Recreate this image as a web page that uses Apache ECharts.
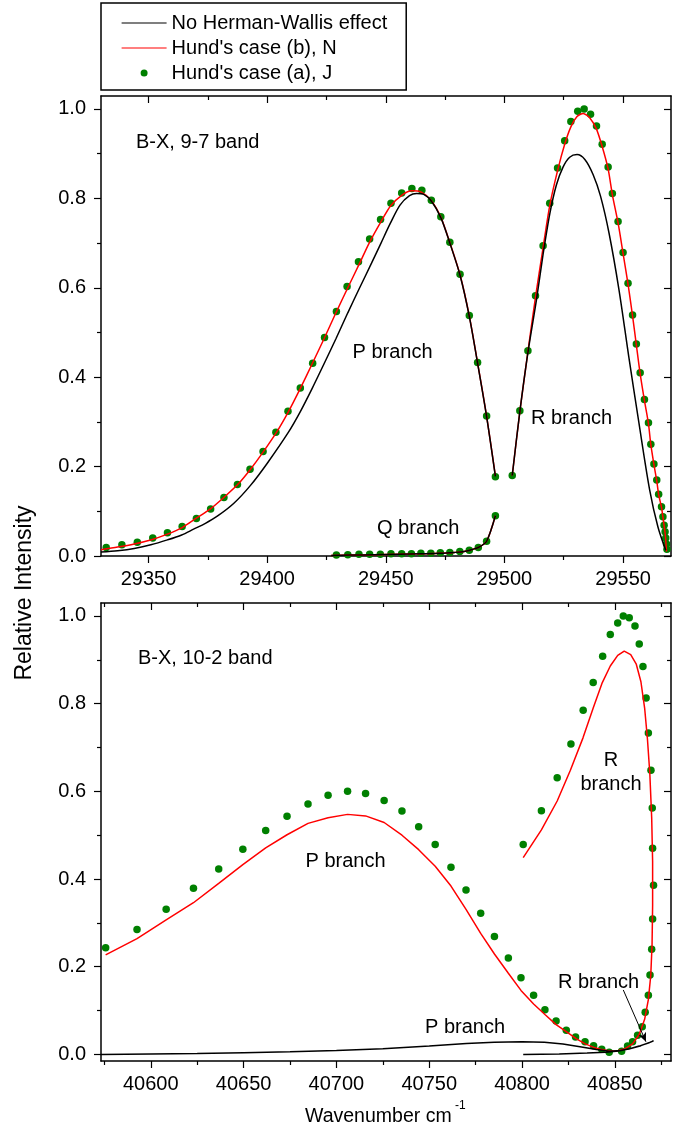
<!DOCTYPE html>
<html><head><meta charset="utf-8">
<script src="https://cdn.jsdelivr.net/npm/echarts@6/dist/echarts.min.js"></script>
<style>html,body{margin:0;padding:0;background:#fff}#c{width:690px;height:1127px}</style>
</head><body><div id="c"></div>
<script>
// ---------- DATA (top panel: B-X 9-7 band) ----------
const topXMajor = [29350, 29400, 29450, 29500, 29550];
const topXMinor = [29375, 29425, 29475, 29525];
const yMajor = [0, 0.2, 0.4, 0.6, 0.8, 1.0];
const yMinor = [0.1, 0.3, 0.5, 0.7, 0.9];

const topDotsP = [[29332.2,0.019],[29338.8,0.025],[29345.3,0.031],[29351.8,0.040],[29358.0,0.052],[29364.2,0.066],[29370.2,0.084],[29376.2,0.105],[29381.8,0.131],[29387.5,0.160],[29392.8,0.194],[29398.3,0.234],[29403.7,0.277],[29408.8,0.324],[29414.0,0.376],[29419.2,0.431],[29424.2,0.489],[29429.2,0.547],[29433.7,0.603],[29438.5,0.658],[29443.2,0.709],[29447.8,0.753],[29452.2,0.789],[29456.7,0.812],[29461.0,0.822],[29465.2,0.818],[29469.2,0.796],[29473.2,0.759],[29477.0,0.702],[29481.3,0.630],[29485.2,0.538],[29488.7,0.433],[29492.5,0.313],[29496.2,0.177]];
const topDotsQ = [[29429.2,0.002],[29434.0,0.003],[29438.7,0.004],[29443.2,0.004],[29447.7,0.004],[29452.2,0.005],[29456.7,0.005],[29460.8,0.005],[29464.8,0.006],[29469.0,0.006],[29473.0,0.007],[29477.0,0.008],[29481.2,0.010],[29485.2,0.013],[29489.0,0.019],[29492.5,0.033],[29496.2,0.090]];
const topDotsR = [[29503.3,0.180],[29506.5,0.325],[29509.9,0.459],[29513.1,0.582],[29516.3,0.694],[29519.1,0.789],[29522.4,0.868],[29525.4,0.929],[29528.0,0.972],[29530.9,0.995],[29533.6,1.000],[29536.3,0.988],[29538.8,0.962],[29541.2,0.921],[29543.7,0.870],[29545.5,0.811],[29547.9,0.748],[29550.0,0.679],[29552.1,0.610],[29554.0,0.539],[29555.6,0.474],[29557.2,0.410],[29559.0,0.350],[29560.7,0.298],[29561.7,0.250],[29563.0,0.206],[29564.2,0.170],[29565.0,0.138],[29566.2,0.110],[29566.8,0.088],[29567.3,0.069],[29567.7,0.054],[29568.0,0.040],[29568.3,0.027],[29568.5,0.015]];

const topRedP = [[29330,0.014],[29337,0.020],[29344,0.027],[29351,0.036],[29358,0.049],[29364,0.063],[29370,0.084],[29376,0.105],[29382,0.132],[29388,0.162],[29393,0.194],[29398,0.230],[29404,0.277],[29409,0.323],[29414,0.375],[29419,0.430],[29424,0.486],[29429,0.544],[29434,0.600],[29439,0.655],[29443,0.700],[29448,0.748],[29452,0.783],[29457,0.808],[29461,0.817],[29465,0.814],[29469.2,0.795],[29473.2,0.758],[29477,0.701],[29481.3,0.629],[29485.2,0.537],[29488.7,0.432],[29492.5,0.313],[29496.2,0.179]];
const topBlackP = [[29330,0.009],[29337,0.012],[29344,0.017],[29351,0.025],[29358,0.036],[29364,0.047],[29369,0.060],[29374,0.073],[29379,0.089],[29386,0.118],[29393,0.158],[29400,0.207],[29409,0.277],[29414,0.323],[29419,0.375],[29424,0.430],[29429,0.486],[29434,0.544],[29439,0.600],[29444,0.655],[29448,0.700],[29452,0.745],[29456,0.785],[29460,0.806],[29463,0.811],[29466,0.809],[29469.2,0.794],[29473.2,0.757],[29477,0.700],[29481.3,0.628],[29485.2,0.536],[29488.7,0.431],[29492.5,0.312],[29496.2,0.178]];
const topQLine = [[29427,0.001],[29435,0.002],[29445,0.003],[29455,0.004],[29465,0.005],[29473,0.006],[29479,0.008],[29483,0.010],[29486,0.014],[29489,0.019],[29492.5,0.033],[29496.2,0.090]];
const topRedR = [[29503.3,0.180],[29506.5,0.323],[29509.9,0.457],[29513.1,0.579],[29516.3,0.690],[29519.1,0.784],[29522.4,0.862],[29525.4,0.921],[29528,0.960],[29530.6,0.983],[29533.2,0.990],[29536,0.980],[29538.8,0.955],[29541.2,0.916],[29543.7,0.866],[29545.5,0.808],[29547.9,0.745],[29550,0.677],[29552.1,0.608],[29554,0.537],[29555.6,0.472],[29557.2,0.408],[29559,0.348],[29560.7,0.296],[29561.7,0.249],[29563,0.205],[29564.2,0.168],[29565,0.137],[29566.2,0.109],[29566.8,0.087],[29567.3,0.068],[29567.7,0.052],[29568.0,0.035],[29568.3,0.010]];
const topBlackR = [[29503.3,0.180],[29506.5,0.323],[29509.9,0.455],[29513.5,0.573],[29516.3,0.675],[29519.1,0.765],[29521.9,0.830],[29524.7,0.870],[29527.5,0.892],[29530.6,0.898],[29533.9,0.887],[29537.4,0.853],[29540.5,0.805],[29544.1,0.722],[29548.3,0.595],[29552.4,0.446],[29556.7,0.297],[29561.2,0.148],[29564.7,0.065],[29568.0,0.013]];

// ---------- DATA (bottom panel: B-X 10-2 band) ----------
const botXMajor = [40600, 40650, 40700, 40750, 40800, 40850];
const botXMinor = [40575, 40625, 40675, 40725, 40775, 40825, 40875];

const botDotsP = [[40575.7,0.2435],[40592.6,0.285],[40608.3,0.331],[40623,0.379],[40636.6,0.423],[40649.6,0.468],[40661.9,0.511],[40673.4,0.543],[40684.7,0.571],[40695.5,0.591],[40706,0.600],[40715.7,0.595],[40725.7,0.579],[40735.3,0.555],[40744.3,0.519],[40753.2,0.479],[40761.7,0.427],[40769.8,0.375],[40777.7,0.322],[40785.1,0.269],[40792.6,0.220],[40799.4,0.175],[40806.2,0.135],[40812.3,0.102],[40818.3,0.076],[40823.8,0.055],[40828.8,0.040],[40833.9,0.029],[40838.5,0.020],[40842.9,0.012],[40846.9,0.005]];
const botDotsR = [[40853.6,0.007],[40856.8,0.019],[40859.5,0.029],[40862.2,0.044],[40864.7,0.063],[40866.3,0.096],[40868,0.135],[40868.9,0.181],[40869.8,0.240],[40870.3,0.309],[40870.8,0.386],[40870.3,0.470],[40870.1,0.562],[40869.4,0.648],[40868,0.733],[40866.8,0.813],[40865.1,0.885],[40863.1,0.936],[40860.8,0.977],[40857.7,0.996],[40854.5,1.000],[40851.5,0.984],[40847.5,0.958],[40843.4,0.908],[40838.3,0.848],[40832.9,0.785],[40826.3,0.708],[40818.9,0.631],[40810.4,0.556],[40800.6,0.479]];
const botRedP = [[40575.7,0.227],[40592.6,0.264],[40608.3,0.307],[40623,0.346],[40636.6,0.390],[40649.6,0.433],[40661.9,0.471],[40673.4,0.501],[40684.7,0.527],[40695.5,0.540],[40706,0.5475],[40715.7,0.544],[40725.7,0.529],[40735.3,0.500],[40744.3,0.467],[40753.2,0.429],[40761.7,0.384],[40769.8,0.331],[40777.7,0.276],[40785.1,0.229],[40792.6,0.185],[40799.4,0.146],[40806.2,0.115],[40812.3,0.091],[40818.3,0.068],[40823.8,0.052],[40829.1,0.036],[40834,0.024],[40838.7,0.016],[40843,0.011],[40847,0.008]];
const botRedR = [[40851,0.008],[40855.5,0.013],[40859.5,0.024],[40863,0.045],[40866,0.080],[40868,0.125],[40869.3,0.180],[40870,0.250],[40870.3,0.340],[40870.3,0.440],[40869.8,0.540],[40868.8,0.640],[40867.5,0.720],[40866,0.790],[40864,0.850],[40861.5,0.890],[40858.5,0.912],[40855,0.920],[40851.5,0.910],[40847.5,0.886],[40843.2,0.848],[40838.3,0.790],[40832.8,0.722],[40826,0.648],[40818.9,0.578],[40810.4,0.512],[40800.6,0.449]];
const botBlackP = [[40573,0.000],[40600,0.001],[40625,0.002],[40650,0.004],[40675,0.006],[40700,0.009],[40725,0.013],[40750,0.019],[40770,0.025],[40785,0.028],[40800,0.029],[40812,0.028],[40822,0.024],[40832,0.017],[40840,0.011],[40847,0.007]];
const botBlackR = [[40853,0.009],[40858,0.013],[40863,0.019],[40868,0.026],[40870.8,0.031],[40869,0.028],[40864,0.020],[40858,0.013],[40852,0.008],[40845,0.005],[40835,0.003],[40820,0.001],[40800.6,0.000]];
const arrowFrom = [40854.5, 0.147];
const arrowTo = [40866.7, 0.029];

const NAME_BLACK = 'No Herman-Wallis effect';
const NAME_RED = "Hund's case (b), N";
const NAME_DOT = "Hund's case (a), J";

// ---------- CHART ----------
const FONT = '"Liberation Sans", Arial, Helvetica, sans-serif';
const chart = echarts.init(document.getElementById('c'), null, {renderer: 'canvas'});

function xAx(grid, min, max, pos, vals, len, inside, labels, line) {
  return {
    type: 'value', gridIndex: grid, min: min, max: max, position: pos,
    axisLine: {show: line, onZero: false, lineStyle: {color: '#000', width: 1.5}},
    axisTick: {show: true, inside: inside, length: len, customValues: vals, lineStyle: {color: '#000', width: 1.2}},
    axisLabel: labels ? {show: true, customValues: vals, margin: 13, fontSize: 20, fontFamily: FONT, color: '#000', formatter: v => String(v)} : {show: false},
    splitLine: {show: false}, minorTick: {show: false}
  };
}
function yAx(grid, min, max, pos, vals, len, inside, labels, line) {
  return {
    type: 'value', gridIndex: grid, min: min, max: max, position: pos,
    axisLine: {show: line, onZero: false, lineStyle: {color: '#000', width: 1.5}},
    axisTick: {show: true, inside: inside, length: len, customValues: vals, lineStyle: {color: '#000', width: 1.2}},
    axisLabel: labels ? {show: true, customValues: vals, margin: 15, fontSize: 20, fontFamily: FONT, color: '#000', formatter: v => v.toFixed(1)} : {show: false},
    splitLine: {show: false}, minorTick: {show: false}
  };
}

const TXMIN = 29330, TXMAX = 29570.2, BXMIN = 40573.2, BXMAX = 40880.2;
const TYMIN = 0, TYMAX = 1.029, BYMIN = -0.015, BYMAX = 1.0296;

const xAxes = [
  xAx(0, TXMIN, TXMAX, 'bottom', topXMajor, 7, false, true, true),
  xAx(0, TXMIN, TXMAX, 'bottom', topXMinor, 4, false, false, false),
  xAx(0, TXMIN, TXMAX, 'top', topXMajor, 7, true, false, true),
  xAx(0, TXMIN, TXMAX, 'top', topXMinor, 4, true, false, false),
  xAx(1, BXMIN, BXMAX, 'bottom', botXMajor, 7, false, true, true),
  xAx(1, BXMIN, BXMAX, 'bottom', botXMinor, 4, false, false, false),
  xAx(1, BXMIN, BXMAX, 'top', botXMajor, 7, true, false, true),
  xAx(1, BXMIN, BXMAX, 'top', botXMinor, 4, true, false, false)
];
const yAxes = [
  yAx(0, TYMIN, TYMAX, 'left', yMajor, 7, false, true, true),
  yAx(0, TYMIN, TYMAX, 'left', yMinor, 4, false, false, false),
  yAx(0, TYMIN, TYMAX, 'right', yMajor, 7, true, false, true),
  yAx(0, TYMIN, TYMAX, 'right', yMinor, 4, true, false, false),
  yAx(1, BYMIN, BYMAX, 'left', yMajor, 7, false, true, true),
  yAx(1, BYMIN, BYMAX, 'left', yMinor, 4, false, false, false),
  yAx(1, BYMIN, BYMAX, 'right', yMajor, 7, true, false, true),
  yAx(1, BYMIN, BYMAX, 'right', yMinor, 4, true, false, false)
];

function lineS(name, data, color, xi, yi, z, smooth) {
  return {
    type: 'line', name: name, data: data, xAxisIndex: xi, yAxisIndex: yi,
    symbol: 'none', showSymbol: false, smooth: smooth, z: z,
    lineStyle: {color: color, width: 1.5}, itemStyle: {color: color},
    emphasis: {disabled: true}, silent: true
  };
}
function dotS(data, xi, yi) {
  return {
    type: 'scatter', name: NAME_DOT, data: data, xAxisIndex: xi, yAxisIndex: yi,
    symbol: 'circle', symbolSize: 7.5, z: 1,
    itemStyle: {color: '#008000', opacity: 1}, emphasis: {disabled: true}, silent: true
  };
}

const blackBottom = lineS(NAME_BLACK, botBlackP.concat(botBlackR), '#000', 4, 4, 4, false);
blackBottom.markLine = {
  silent: true, animation: false, symbol: ['none', 'arrow'], symbolSize: [6, 9],
  label: {show: false}, lineStyle: {color: '#000', width: 1, type: 'solid'},
  data: [[{coord: arrowFrom}, {coord: arrowTo}]]
};

const series = [
  dotS(topDotsP.concat(topDotsQ, topDotsR), 0, 0),
  lineS(NAME_RED, topRedP, '#ff0000', 0, 0, 2, 0.25),
  lineS(NAME_RED, topQLine, '#ff0000', 0, 0, 2, 0.25),
  lineS(NAME_RED, topRedR, '#ff0000', 0, 0, 2, 0.25),
  lineS(NAME_BLACK, topBlackP, '#000', 0, 0, 3, 0.3),
  lineS(NAME_BLACK, topQLine, '#000', 0, 0, 3, 0.25),
  lineS(NAME_BLACK, topBlackR, '#000', 0, 0, 3, 0.3),
  dotS(botDotsP.concat(botDotsR), 4, 4),
  lineS(NAME_RED, botRedP.concat(botRedR), '#ff0000', 4, 4, 2, false),
  blackBottom
];

function txt(t, x, y, size, align) {
  return {type: 'text', x: x, y: y, silent: true, z: 50,
    style: {text: t, font: (size || 20) + 'px ' + FONT, fill: '#000', textAlign: align || 'left', textVerticalAlign: 'middle'}};
}

const hideSym = {opacity: 0, color: 'rgba(0,0,0,0)', borderWidth: 0};
const option = {
  animation: false,
  backgroundColor: '#fff',
  grid: [
    {left: 101, right: 19, top: 96, height: 460, containLabel: false},
    {left: 101, right: 19, top: 603, height: 458, containLabel: false}
  ],
  xAxis: xAxes,
  yAxis: yAxes,
  legend: {
    show: true, orient: 'vertical', left: 101, top: 3,
    data: [
      {name: NAME_BLACK, itemStyle: hideSym, lineStyle: {width: 1.2}},
      {name: NAME_RED, itemStyle: hideSym, lineStyle: {width: 1.2}},
      {name: NAME_DOT, icon: 'circle'}
    ],
    itemWidth: 45, itemHeight: 7, itemGap: 5,
    padding: [10, 19, 7, 20],
    borderColor: '#000', borderWidth: 1.5, borderRadius: 0,
    selectedMode: false,
    textStyle: {fontSize: 20, fontFamily: FONT, color: '#000', lineHeight: 20}
  },
  graphic: [
    txt('B-X, 9-7 band', 136, 142),
    txt('P branch', 352.5, 352),
    txt('R branch', 531, 418.5),
    txt('Q branch', 377, 528.5),
    txt('B-X, 10-2 band', 138, 658),
    txt('P branch', 305.5, 861),
    txt('R', 611, 760, 20, 'center'),
    txt('branch', 611, 784.5, 20, 'center'),
    txt('R branch', 558, 982),
    txt('P branch', 425, 1027),
    {type: 'text', x: 25, y: 593, rotation: Math.PI / 2, silent: true,
      style: {text: 'Relative Intensity', font: '23px ' + FONT, fill: '#000', textAlign: 'center', textVerticalAlign: 'middle'}},
    txt('Wavenumber cm', 305, 1117, 19.5),
    txt('-1', 455, 1106, 12)
  ],
  series: series
};
chart.setOption(option);
</script></body></html>
